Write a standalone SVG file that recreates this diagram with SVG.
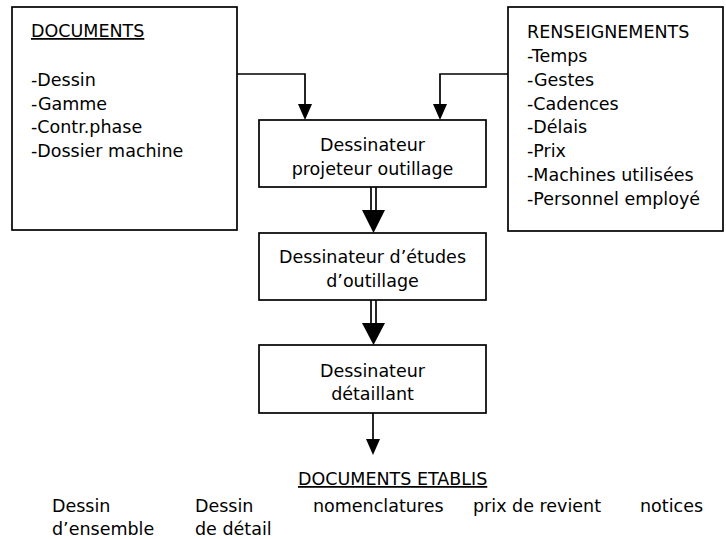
<svg xmlns="http://www.w3.org/2000/svg" width="726" height="539" viewBox="0 0 726 539">
<style>
text{font-family:"DejaVu Sans","Liberation Sans",sans-serif;font-size:17.5px;fill:#000}
.c{text-anchor:middle}
.u{text-decoration:underline}
.box{fill:#fff;stroke:#000;stroke-width:1.7}
.ln{fill:none;stroke:#000;stroke-width:1.7}
.ah{fill:#000;stroke:none}
</style>
<rect width="726" height="539" fill="#fff"/>
<g id="connectors">
<polyline class="ln" points="237,74 305,74 305,106"/>
<polygon class="ah" points="298,104 312,104 305,120"/>
<polyline class="ln" points="508,74 440,74 440,106"/>
<polygon class="ah" points="433,104 447,104 440,120"/>
<line class="ln" x1="371" y1="187" x2="371" y2="212"/>
<line class="ln" x1="376" y1="187" x2="376" y2="212"/>
<polygon class="ah" points="362,210 385,210 373.5,233"/>
<line class="ln" x1="371" y1="300" x2="371" y2="325"/>
<line class="ln" x1="376" y1="300" x2="376" y2="325"/>
<polygon class="ah" points="362,323 385,323 373.5,345"/>
<line class="ln" x1="373" y1="413" x2="373" y2="441"/>
<polygon class="ah" points="366,439 380,439 373,455"/>
</g>
<g id="documents">
<rect class="box" x="12" y="7" width="225" height="223"/>
<text class="u" x="31" y="37">DOCUMENTS</text>
<text x="31" y="86">-Dessin</text>
<text x="31" y="110">-Gamme</text>
<text x="31" y="133">-Contr.phase</text>
<text x="31" y="157">-Dossier machine</text>
</g>
<g id="renseignements">
<rect class="box" x="508" y="7" width="215" height="224"/>
<text x="527" y="38">RENSEIGNEMENTS</text>
<text x="527" y="62">-Temps</text>
<text x="527" y="86">-Gestes</text>
<text x="527" y="110">-Cadences</text>
<text x="527" y="133">-Délais</text>
<text x="527" y="157">-Prix</text>
<text x="527" y="181">-Machines utilisées</text>
<text x="527" y="205">-Personnel employé</text>
</g>
<g id="projeteur">
<rect class="box" x="259" y="120" width="227" height="67"/>
<text class="c" x="372.5" y="151">Dessinateur</text>
<text class="c" x="372.5" y="175">projeteur outillage</text>
</g>
<g id="etudes">
<rect class="box" x="259" y="233" width="227" height="67"/>
<text class="c" x="372.5" y="263">Dessinateur d’études</text>
<text class="c" x="372.5" y="287">d’outillage</text>
</g>
<g id="detaillant">
<rect class="box" x="259" y="345" width="227" height="68"/>
<text class="c" x="372.5" y="377">Dessinateur</text>
<text class="c" x="372.5" y="400">détaillant</text>
</g>
<g id="documents-etablis">
<text class="u" x="298" y="485">DOCUMENTS ETABLIS</text>
<text x="52" y="512">Dessin</text>
<text x="52" y="535">d’ensemble</text>
<text x="195" y="512">Dessin</text>
<text x="195" y="535">de détail</text>
<text x="313" y="512">nomenclatures</text>
<text x="473" y="512">prix de revient</text>
<text x="640" y="512">notices</text>
</g>
</svg>
